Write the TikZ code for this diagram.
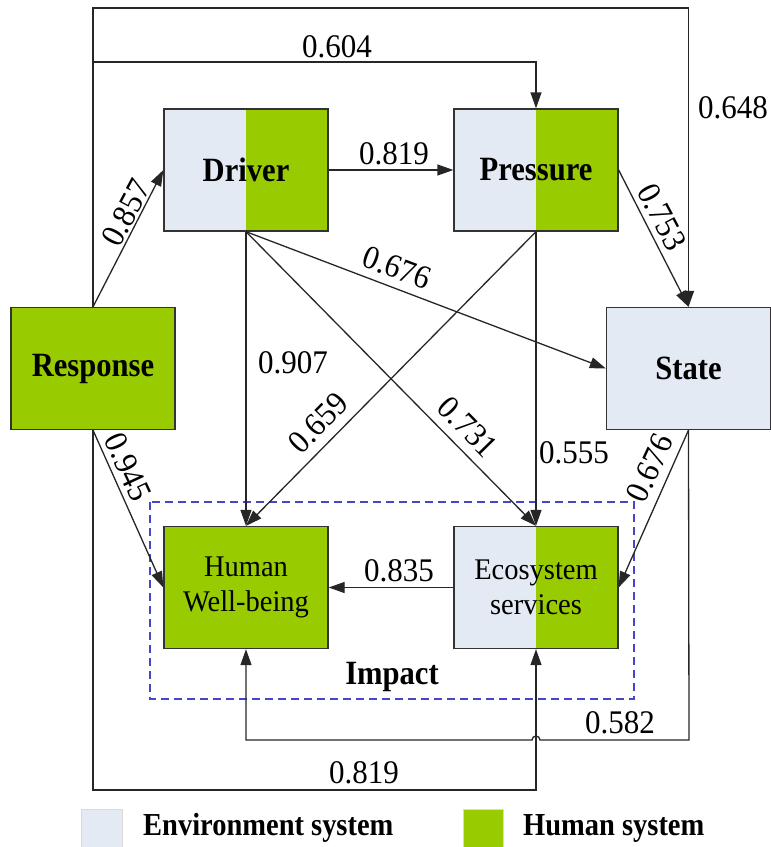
\documentclass[tikz,border=0pt]{standalone}
\usepackage{fontspec}
\setmainfont{Liberation Serif}
\newfontfamily\numfont[FakeStretch=0.94]{Liberation Serif}
\newfontfamily\boxfont[FakeStretch=0.90]{Liberation Serif}
\newfontfamily\legfont[FakeStretch=0.89]{Liberation Serif}
\newfontfamily\impfont[FakeStretch=0.95]{Liberation Serif}
\usetikzlibrary{arrows.meta}
\definecolor{envc}{HTML}{E4EAF4}
\definecolor{humc}{HTML}{99CC00}
\definecolor{dashc}{HTML}{4646C8}
\begin{document}
\begin{tikzpicture}[x=1pt,y=-1pt,
  box/.style={draw=black!80, line width=1.3pt, minimum width=164pt, minimum height=122pt, inner sep=0pt, font=\boxfont\fontsize{34}{36}\selectfont\bfseries},
  splitbox/.style={box, fill=envc, path picture={\fill[humc] (path picture bounding box.north) rectangle (path picture bounding box.south east);}},
  humbox/.style={box, fill=humc},
  envbox/.style={box, fill=envc},
  num/.style={font=\numfont\fontsize{33}{35}\selectfont, inner sep=0pt},
  conn/.style={line width=1.3pt, draw=black!85, -{Triangle[length=16pt,width=11pt]}},
  leg/.style={font=\legfont\fontsize{32}{34}\selectfont\bfseries, inner sep=0pt, anchor=west}
]
\useasboundingbox (0,0) rectangle (771,847);
\clip (0,0) rectangle (771,847);

% impact frame
\draw[dashc, line width=1.2pt, dash pattern=on 8pt off 5pt] (150,502) rectangle (634,699);
\node[font=\boxfont\fontsize{34}{36}\selectfont\bfseries, inner sep=0pt] (impact) at (392,677) {Impact};

% boxes
\node[splitbox] (drv) at (246,170) {Driver};
\node[splitbox] (prs) at (536,170) {Pressure};
\node[humbox] (rsp) at (93,368.5) {Response};
\node[envbox] (st) at (688.5,368.5) {State};
\node[humbox, font=\impfont\fontsize{30}{35}\selectfont, align=center] (hwb) at (246,587.5) {Human\\Well-being};
\node[splitbox, font=\impfont\fontsize{30}{35}\selectfont, align=center] (eco) at (536,587.5) {Ecosystem\\services};

% helper coordinates
\coordinate (t1) at (93,8);
\coordinate (t2) at (93,62);
\coordinate (b1) at (93,790);
\coordinate (b2) at (689,740);
\coordinate (hopR) at (540,740);

% connectors
\draw[conn] (rsp.north) -- (t1) -| (st.north);
\draw[conn] (t2) -| (prs.north);
\draw[conn] (rsp.north) -- (drv.west);
\draw[conn] (drv.east) -- (prs.west);
\draw[conn] (prs.east) -- (st.north);
\draw[conn] (drv.south) -- (st.west);
\draw[conn] (drv.south) -- (hwb.north);
\draw[conn] (drv.south) -- (eco.north);
\draw[conn] (prs.south) -- (hwb.north);
\draw[conn] (prs.south) -- (eco.north);
\draw[conn] (rsp.south) -- (hwb.west);
\draw[conn] (st.south) -- (eco.east);
\draw[conn] (eco.west) -- (hwb.east);
\draw[conn] (rsp.south) -- (b1) -| (eco.south);
\draw[conn] (st.south) -- (b2) -- (hopR) arc (0:-180:4) -- (hwb.south |- b2) -- (hwb.south);

% labels
\node[num] (l604) at (337,47) {0.604};
\node[num] (l648) at (733,108) {0.648};
\node[num] (l819a) at (394,154) {0.819};
\node[num, rotate=62] (l857) at (126,213) {0.857};
\node[num, rotate=-62] (l753) at (662,217) {0.753};
\node[num, rotate=-20.5] (l676a) at (397,268) {0.676};
\node[num] (l907) at (293,363) {0.907};
\node[num, rotate=45.6] (l659) at (318,423) {0.659};
\node[num, rotate=-45.6] (l731) at (468,427) {0.731};
\node[num] (l555) at (574,453) {0.555};
\node[num, rotate=-65] (l945) at (128,467) {0.945};
\node[num, rotate=65] (l676b) at (650,468) {0.676};
\node[num] (l835) at (399,571) {0.835};
\node[num] (l582) at (620,723) {0.582};
\node[num] (l819b) at (364,773) {0.819};

% legend
\node[draw=black!15, line width=0.8pt, fill=envc, minimum width=41pt, minimum height=50pt, inner sep=0pt, anchor=north west] (legE) at (81,809) {};
\node[leg] (legEt) at (143,828) {Environment system};
\node[draw=black!15, line width=0.8pt, fill=humc, minimum width=40pt, minimum height=50pt, inner sep=0pt, anchor=north west] (legH) at (463,809) {};
\node[leg] (legHt) at (523,828) {Human system};
\end{tikzpicture}
\end{document}
